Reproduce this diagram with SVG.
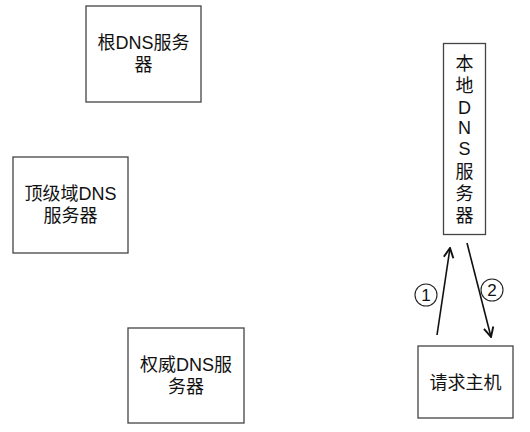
<svg xmlns="http://www.w3.org/2000/svg" width="530" height="432" viewBox="0 0 530 432">
<style>
.box{fill:#fff;stroke:#444;stroke-width:1.3}
.t{font-family:"Liberation Sans","Noto Sans CJK SC",sans-serif;font-size:18px;fill:#111;text-anchor:middle;dominant-baseline:central}
.c{font-family:"Liberation Sans",Arial,sans-serif;font-size:17px;fill:#111;text-anchor:middle;dominant-baseline:central}
.edge{stroke:#111;stroke-width:1.6;fill:none}
.circ{fill:#fff;stroke:#222;stroke-width:1.1}
</style>
<defs>
<marker id="arr" markerUnits="userSpaceOnUse" markerWidth="12" markerHeight="12" refX="9" refY="5" orient="auto" viewBox="0 0 10 10">
<path d="M1,1 L9,5 L1,9" fill="none" stroke="#111" stroke-width="1.6"/>
</marker>
</defs>
<rect width="530" height="432" fill="#fff"/>
<g id="root">
<rect class="box" x="86" y="6" width="115" height="96"/>
<text class="t" x="143.5" y="43">根DNS服务</text>
<text class="t" x="143.5" y="65">器</text>
</g>
<g id="tld">
<rect class="box" x="13" y="157" width="115" height="96"/>
<text class="t" x="70.5" y="194">顶级域DNS</text>
<text class="t" x="70.5" y="216">服务器</text>
</g>
<g id="auth">
<rect class="box" x="128" y="328" width="116" height="95"/>
<text class="t" x="186" y="365">权威DNS服</text>
<text class="t" x="186" y="387">务器</text>
</g>
<g id="local">
<rect class="box" x="443.5" y="43.5" width="42" height="191"/>
<text class="t" x="464.5" y="64">本</text>
<text class="t" x="464.5" y="86">地</text>
<text class="t" x="464.5" y="107.5">D</text>
<text class="t" x="464.5" y="128">N</text>
<text class="t" x="464.5" y="149">S</text>
<text class="t" x="464.5" y="172">服</text>
<text class="t" x="464.5" y="194">务</text>
<text class="t" x="464.5" y="216">器</text>
</g>
<g id="host">
<rect class="box" x="418" y="346" width="95" height="72"/>
<text class="t" x="465.5" y="383">请求主机</text>
</g>
<g id="connectors">
<line class="edge" x1="437" y1="335" x2="450" y2="248" marker-end="url(#arr)"/>
<line class="edge" x1="467" y1="243" x2="491" y2="337" marker-end="url(#arr)"/>
</g>
<g id="labels">
<circle class="circ" cx="426" cy="295" r="11"/>
<text class="c" x="426" y="295.5">1</text>
<circle class="circ" cx="492" cy="290" r="11"/>
<text class="c" x="492" y="290.5">2</text>
</g>
</svg>
